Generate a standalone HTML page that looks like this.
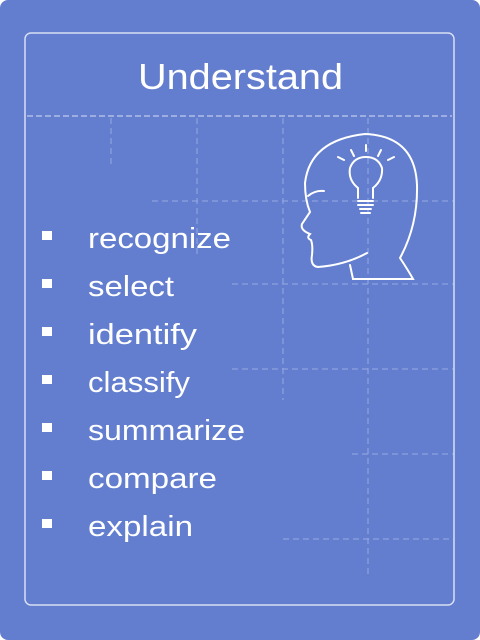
<!DOCTYPE html>
<html><head><style>
body{margin:0;width:480px;height:640px;background:#fff;overflow:hidden}
.o{position:absolute;left:0;top:0;width:480px;height:640px;background:#637ece;border-radius:8px}
.t{font-family:"Liberation Sans",sans-serif;fill:#fff}
</style></head><body><div class="o"></div>
<svg width="480" height="640" style="position:absolute;left:0;top:0">
<g stroke="#a6b4e6" stroke-width="1" stroke-dasharray="6,4" fill="none" opacity="0.8">
<line x1="111" y1="118" x2="111" y2="168"/>
<line x1="197" y1="118" x2="197" y2="255"/>
<line x1="283" y1="118" x2="283" y2="400"/>
<line x1="368" y1="118" x2="368" y2="577"/>
<line x1="152" y1="201" x2="454" y2="201"/>
<line x1="232" y1="284" x2="454" y2="284"/>
<line x1="232" y1="369" x2="454" y2="369"/>
<line x1="352" y1="454" x2="454" y2="454"/>
<line x1="283" y1="539" x2="454" y2="539"/>
</g>
<rect x="25" y="33" width="429" height="572" rx="6" fill="none" stroke="#d8def4" stroke-width="1.5"/>
<line x1="27" y1="116" x2="452" y2="116" stroke="#d8def4" stroke-dasharray="6,3"/>
<text x="138" y="89" textLength="205" lengthAdjust="spacingAndGlyphs" class="t" font-size="36">Understand</text>
<g fill="#fff">
<rect x="42" y="231" width="10" height="9"/><rect x="42" y="279" width="10" height="9"/><rect x="42" y="327" width="10" height="9"/><rect x="42" y="375" width="10" height="9"/><rect x="42" y="423" width="10" height="9"/><rect x="42" y="471" width="10" height="9"/><rect x="42" y="519" width="10" height="9"/>
</g>
<g class="t" font-size="29">
<text x="88" y="248" textLength="143" lengthAdjust="spacingAndGlyphs">recognize</text>
<text x="88" y="296" textLength="86" lengthAdjust="spacingAndGlyphs">select</text>
<text x="88" y="344" textLength="109" lengthAdjust="spacingAndGlyphs">identify</text>
<text x="88" y="392" textLength="102" lengthAdjust="spacingAndGlyphs">classify</text>
<text x="88" y="440" textLength="157" lengthAdjust="spacingAndGlyphs">summarize</text>
<text x="88" y="488" textLength="129" lengthAdjust="spacingAndGlyphs">compare</text>
<text x="88" y="536" textLength="105" lengthAdjust="spacingAndGlyphs">explain</text>
</g>
<g fill="none" stroke="#fff" stroke-width="2" stroke-linecap="round">
<path d="M367 253 Q345 265 318 267 Q310 266 312 255 Q313 245 311 240 Q306 238 310 234 Q300 230 302 224 L310 212 Q305 200 305 183 Q310 140 365 134 Q415 136 417 185 Q418 225 400 258 Q408 270 413 279 L353 279 L350 265"/>
<path d="M308 196 Q315 190 324 191"/>
<path d="M358 198 L358 188 Q348 180 350 168 Q354 157 366 157 Q378 157 382 168 Q383 180 373 188 L373 198"/>
<path d="M358 201 L373 201 M358 205 L373 205 M360 209 L371 209 M361 213 L370 213"/>
<path d="M366 145 L366 151 M351 150 L354 156 M381 150 L378 156 M338 157 L344 160 M394 157 L388 160"/>
</g>
</svg>
</body></html>
